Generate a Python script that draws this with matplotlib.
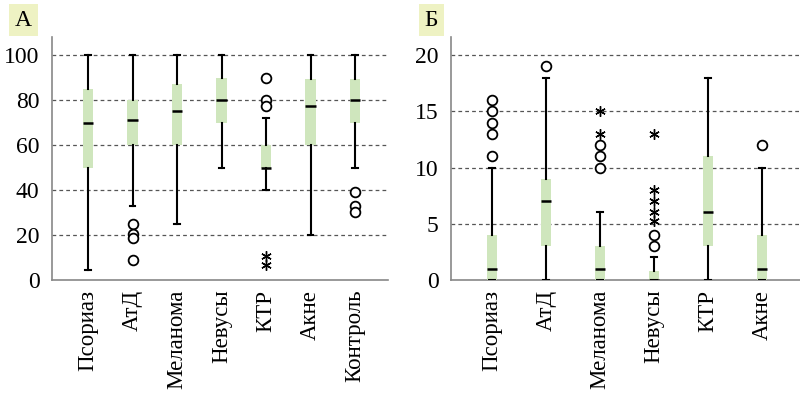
import matplotlib
matplotlib.use('Agg')
import matplotlib.pyplot as plt

plt.rcParams['font.family'] = ['Liberation Serif', 'DejaVu Serif']

# panel A
cats_a = ['Псориаз', 'АтД', 'Меланома', 'Невусы', 'КТР', 'Акне', 'Контроль']
lo_a = [4.5, 33, 25, 50, 40, 20, 50]
q1_a = [50, 60, 60, 70, 50, 60, 70]
med_a = [70, 71, 75, 80, 50, 77.5, 80]
q3_a = [85, 80, 87, 90, 60, 89.5, 89.5]
hi_a = [100, 100, 100, 100, 72, 100, 100]
circ_a = [[], [25, 20.5, 18.5, 9], [], [], [90, 80, 77.5], [], [39, 33, 30]]
star_a = [[], [], [], [], [10.5, 6.5], [], []]

# panel B
cats_b = ['Псориаз', 'АтД', 'Меланома', 'Невусы', 'КТР', 'Акне']
lo_b = [0, 0, 0, 0, 0, 0]
q1_b = [0, 3, 0, 0, 3, 0]
med_b = [1, 7, 1, 0, 6, 1]
q3_b = [4, 9, 3, 0.8, 11, 4]
hi_b = [10, 18, 6, 2, 18, 10]
circ_b = [[16, 15, 14, 13, 11], [19], [12, 11, 10], [4, 3], [], [12]]
star_b = [[], [], [15, 13], [13, 8, 7, 6, 5.2], [], []]

GREEN = '#cfe6bd'
LABEL_BG = '#eef2c3'


def make_panel(ax, cats, lo, q1, med, q3, hi, circ, star, ymax, ticks, letter, bw, lx):
    stats = []
    for i in range(len(cats)):
        stats.append(dict(whislo=lo[i], q1=q1[i], med=med[i], q3=q3[i],
                          whishi=hi[i], fliers=circ[i]))
    pos = list(range(len(cats)))
    ax.bxp(stats, positions=pos, widths=bw, capwidths=bw * 0.55, patch_artist=True,
           boxprops=dict(facecolor=GREEN, edgecolor='none', linewidth=0),
           medianprops=dict(color='black', linewidth=1.8),
           whiskerprops=dict(color='black', linewidth=1.5),
           capprops=dict(color='black', linewidth=1.5),
           flierprops=dict(marker='o', markerfacecolor='white', markeredgecolor='black',
                           markersize=7, markeredgewidth=1.3, linestyle='none'),
           zorder=3)
    # extreme values drawn as asterisks
    for i, s in enumerate(star):
        if s:
            ax.plot([i] * len(s), s, linestyle='none', marker=(6, 2, 0),
                    color='black', markersize=7.5, markeredgewidth=1.0, zorder=4)
    ax.set_ylim(0, ymax)
    ax.set_yticks(ticks)
    ax.set_xticks(pos)
    ax.set_xticklabels(cats, rotation=90, fontsize=16.5)
    ax.tick_params(axis='both', length=0)
    ax.tick_params(axis='y', pad=9, labelsize=17)
    ax.tick_params(axis='x', pad=7)
    for t in ticks[1:]:
        ax.axhline(t, color='#555555', linestyle=(0, (3, 2.5)), linewidth=0.9, zorder=1)
    for sp in ['top', 'right']:
        ax.spines[sp].set_visible(False)
    ax.spines['left'].set_color('#888888')
    ax.spines['bottom'].set_color('#888888')
    ax.spines['left'].set_linewidth(1.2)
    ax.spines['bottom'].set_linewidth(1.2)
    ax.text(lx, 1.07, letter, transform=ax.transAxes, fontsize=17, ha='center',
            va='center', bbox=dict(boxstyle='square,pad=0.25', facecolor=LABEL_BG,
                                   edgecolor='none'))


fig = plt.figure(figsize=(8, 3.98), dpi=100)
ax1 = fig.add_axes([0.065, 0.2965, 0.42, 0.6105])
ax2 = fig.add_axes([0.564, 0.2965, 0.436, 0.6105])

make_panel(ax1, cats_a, lo_a, q1_a, med_a, q3_a, hi_a, circ_a, star_a,
           108, [0, 20, 40, 60, 80, 100], 'А', 0.23, -0.086)
ax1.set_xlim(-0.81, 6.74)
make_panel(ax2, cats_b, lo_b, q1_b, med_b, q3_b, hi_b, circ_b, star_b,
           21.6, [0, 5, 10, 15, 20], 'Б', 0.19, -0.057)
ax2.set_xlim(-0.76, 5.7)

fig.savefig('out.png', dpi=100)
